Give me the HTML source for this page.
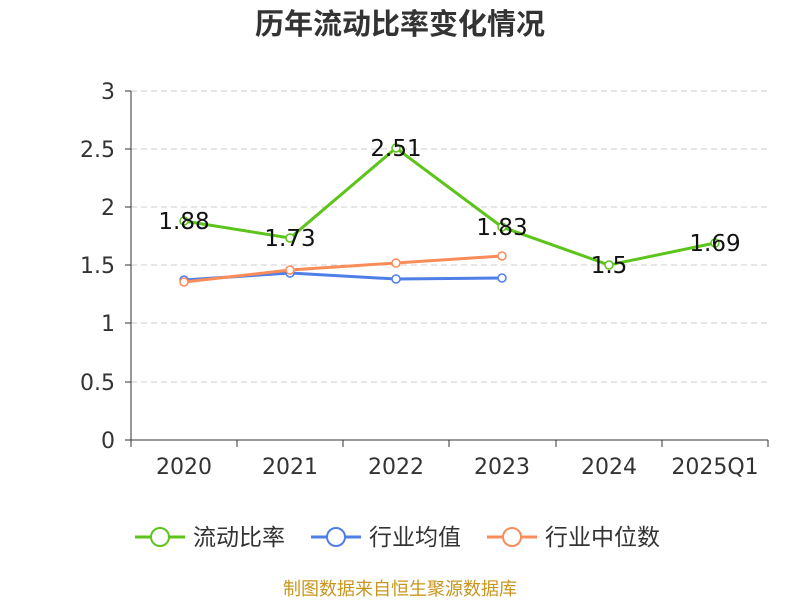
<!DOCTYPE html>
<html><head><meta charset="utf-8"><style>
body{margin:0;background:#fff;}
svg text{font-family:"DejaVu Sans","Noto Sans CJK SC",sans-serif;}
</style></head><body>
<svg width="800" height="600" xmlns="http://www.w3.org/2000/svg">
<text x="400" y="34" text-anchor="middle" font-size="29" font-weight="bold" fill="#333" style="font-family:'Liberation Sans','Noto Sans CJK SC',sans-serif">历年流动比率变化情况</text>
<g stroke="#ccc" stroke-dasharray="6,4" stroke-width="1">
<line x1="131" y1="91" x2="768" y2="91"/><line x1="131" y1="149" x2="768" y2="149"/>
<line x1="131" y1="207" x2="768" y2="207"/><line x1="131" y1="265" x2="768" y2="265"/>
<line x1="131" y1="323" x2="768" y2="323"/><line x1="131" y1="382" x2="768" y2="382"/>
</g>
<g stroke="#333" stroke-width="1">
<line x1="131" y1="91" x2="131" y2="440"/><line x1="131" y1="440" x2="768" y2="440"/>
<line x1="125" y1="91" x2="131" y2="91"/><line x1="125" y1="149" x2="131" y2="149"/><line x1="125" y1="207" x2="131" y2="207"/><line x1="125" y1="265" x2="131" y2="265"/><line x1="125" y1="323" x2="131" y2="323"/><line x1="125" y1="382" x2="131" y2="382"/><line x1="125" y1="440" x2="131" y2="440"/>
<line x1="131" y1="440" x2="131" y2="447"/><line x1="237" y1="440" x2="237" y2="447"/><line x1="343" y1="440" x2="343" y2="447"/><line x1="449" y1="440" x2="449" y2="447"/><line x1="556" y1="440" x2="556" y2="447"/><line x1="662" y1="440" x2="662" y2="447"/><line x1="768" y1="440" x2="768" y2="447"/>
</g>
<g font-size="22" fill="#333" text-anchor="end">
<text x="115" y="99">3</text><text x="115" y="157">2.5</text><text x="115" y="215">2</text><text x="115" y="273">1.5</text><text x="115" y="331">1</text><text x="115" y="390">0.5</text><text x="115" y="448">0</text>
</g>
<g font-size="22" fill="#333" text-anchor="middle">
<text x="184" y="474">2020</text><text x="290" y="474">2021</text><text x="396" y="474">2022</text><text x="502" y="474">2023</text><text x="609" y="474">2024</text><text x="715" y="474">2025Q1</text>
</g>
<polyline fill="none" stroke="#4e7fe8" stroke-width="3" points="184,280 290,273 396,279 502,278"/>
<g fill="#fff" stroke="#4e7fe8" stroke-width="1.5"><circle cx="184" cy="280" r="4"/><circle cx="290" cy="273" r="4"/><circle cx="396" cy="279" r="4"/><circle cx="502" cy="278" r="4"/></g>
<polyline fill="none" stroke="#fa8c5a" stroke-width="3" points="184,282 290,270 396,263 502,256"/>
<g fill="#fff" stroke="#fa8c5a" stroke-width="1.5"><circle cx="184" cy="282" r="4"/><circle cx="290" cy="270" r="4"/><circle cx="396" cy="263" r="4"/><circle cx="502" cy="256" r="4"/></g>
<polyline fill="none" stroke="#5cc41a" stroke-width="3" points="184,221 290,238 396,148 502,227 609,265 715,243"/>
<g fill="#fff" stroke="#5cc41a" stroke-width="1.5"><circle cx="184" cy="221" r="4"/><circle cx="290" cy="238" r="4"/><circle cx="396" cy="148" r="4"/><circle cx="502" cy="227" r="4"/><circle cx="609" cy="265" r="4"/><circle cx="715" cy="243" r="4"/></g>
<g font-size="23" fill="#111" text-anchor="middle">
<text x="184" y="229">1.88</text><text x="290" y="246">1.73</text><text x="396" y="156">2.51</text><text x="502" y="235">1.83</text><text x="609" y="273">1.5</text><text x="715" y="251">1.69</text>
</g>
<g font-size="23" fill="#333">
<line x1="135" y1="537" x2="185" y2="537" stroke="#5cc41a" stroke-width="3"/><circle cx="160" cy="537" r="9" fill="#fff" stroke="#5cc41a" stroke-width="2"/><text x="193" y="545">流动比率</text>
<line x1="311" y1="537" x2="361" y2="537" stroke="#4e7fe8" stroke-width="3"/><circle cx="336" cy="537" r="9" fill="#fff" stroke="#4e7fe8" stroke-width="2"/><text x="369" y="545">行业均值</text>
<line x1="487" y1="537" x2="537" y2="537" stroke="#fa8c5a" stroke-width="3"/><circle cx="512" cy="537" r="9" fill="#fff" stroke="#fa8c5a" stroke-width="2"/><text x="545" y="545">行业中位数</text>
</g>
<text x="400" y="595" text-anchor="middle" font-size="18" fill="#c8961e">制图数据来自恒生聚源数据库</text>
</svg>
</body></html>
